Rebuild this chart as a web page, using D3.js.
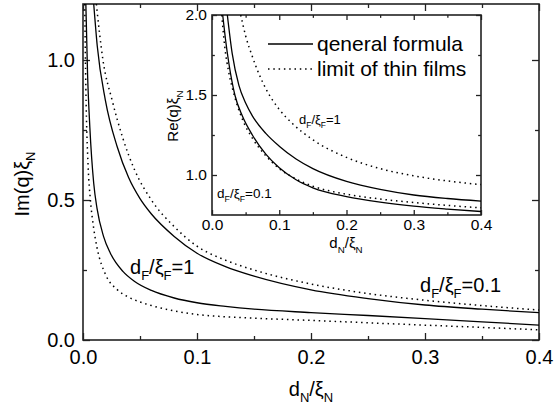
<!DOCTYPE html>
<html>
<head>
<meta charset="utf-8">
<script src="https://cdn.jsdelivr.net/npm/d3@7"></script>
<style>
  body { margin: 0; background: white; }
  svg { display: block; }
  svg text { font-family: "Liberation Sans", Arial, sans-serif; }
</style>
</head>
<body>
<div id="chart"></div>
<script>
// Im(q) xi_N vs d_N/xi_N
let imGeneral01 = [[0.0094, 1.2], [0.0125, 1.05], [0.0196, 0.857], [0.03, 0.69], [0.04, 0.58], [0.05, 0.505],
    [0.06, 0.45], [0.08, 0.37], [0.1, 0.31], [0.125, 0.262], [0.15, 0.228], [0.2, 0.179], [0.25, 0.148],
    [0.3, 0.125], [0.35, 0.11], [0.4, 0.0975]]
let imThin01 = [[0.0117, 1.2], [0.0175, 1.0], [0.0255, 0.857], [0.035, 0.72], [0.045, 0.61], [0.06, 0.5],
    [0.08, 0.405], [0.1, 0.335], [0.125, 0.285], [0.15, 0.25], [0.2, 0.2], [0.25, 0.166], [0.3, 0.142],
    [0.35, 0.123], [0.4, 0.107]]
let imGeneral1 = [[0.0025, 1.2], [0.004, 0.95], [0.006, 0.76], [0.0094, 0.56], [0.0123, 0.47], [0.018, 0.37],
    [0.024, 0.31], [0.035, 0.245], [0.045, 0.21], [0.06, 0.177], [0.08, 0.15], [0.1, 0.133], [0.125, 0.12],
    [0.15, 0.11], [0.2, 0.098], [0.25, 0.0875], [0.3, 0.0765], [0.35, 0.065], [0.4, 0.053]]
let imThin1 = [[0.0015, 1.2], [0.0025, 0.9], [0.0045, 0.62], [0.0065, 0.5], [0.009, 0.41], [0.0123, 0.33],
    [0.02, 0.232], [0.03, 0.18], [0.04, 0.153], [0.05, 0.136], [0.06, 0.123], [0.08, 0.104], [0.1, 0.091],
    [0.125, 0.083], [0.15, 0.078], [0.2, 0.07], [0.25, 0.0615], [0.3, 0.053], [0.35, 0.045], [0.4, 0.036]]

// Re(q) xi_N (inset)
let reGeneral01 = [[0.0159, 2.0], [0.02, 1.85], [0.025, 1.7], [0.034, 1.5], [0.045, 1.37], [0.06, 1.25],
    [0.08, 1.13], [0.1, 1.045], [0.125, 0.97], [0.15, 0.92], [0.2, 0.865], [0.25, 0.83], [0.3, 0.805],
    [0.35, 0.787], [0.4, 0.772]]
let reThin01 = [[0.0145, 2.0], [0.019, 1.8], [0.025, 1.64], [0.033, 1.5], [0.045, 1.35], [0.06, 1.23],
    [0.08, 1.12], [0.1, 1.04], [0.125, 0.975], [0.15, 0.93], [0.2, 0.88], [0.25, 0.85], [0.3, 0.828],
    [0.35, 0.81], [0.4, 0.795]]
let reGeneral1 = [[0.0228, 2.0], [0.03, 1.76], [0.04, 1.56], [0.05, 1.45], [0.06, 1.37], [0.08, 1.26],
    [0.1, 1.18], [0.125, 1.1], [0.15, 1.04], [0.2, 0.96], [0.25, 0.91], [0.3, 0.875], [0.35, 0.853], [0.4, 0.837]]
let reThin1 = [[0.0427, 2.0], [0.05, 1.87], [0.06, 1.74], [0.07, 1.63], [0.08, 1.54], [0.1, 1.41],
    [0.12, 1.32], [0.15, 1.22], [0.2, 1.11], [0.25, 1.04], [0.3, 0.995], [0.35, 0.963], [0.4, 0.94]]

let xTicks = [0.0, 0.1, 0.2, 0.3, 0.4]
let xMinor = [0.05, 0.15, 0.25, 0.35]
let imTicks = [0.0, 0.5, 1.0]
let imMinor = [0.25, 0.75]
let reTicks = [1.0, 1.5, 2.0]
let reMinor = [1.25, 1.75]

let legendLabels = ["qeneral formula", "limit of thin films"]

const W = 554, H = 407
const svg = d3.select("#chart").append("svg").attr("width", W).attr("height", H)

// text with subscripts: parts like ["d", ["N"], "/ξ", ["N"]]
let richText = function (sel, parts, size) {
    let shift = 0
    parts.forEach(function (p) {
        let isSub = Array.isArray(p)
        let want = isSub ? size * 0.3 : 0
        sel.append("tspan")
            .attr("dy", want - shift)
            .attr("font-size", isSub ? size * 0.65 : size)
            .text(isSub ? p[0] : p)
        shift = want
    })
    return sel
}

let drawPanel = function (g, box, yDomain, yT, yM, fs, tickLen, padX, padY) {
    let x = d3.scaleLinear().domain([0, 0.4]).range([box.x0, box.x1])
    let y = d3.scaleLinear().domain(yDomain).range([box.y1, box.y0])

    g.append("rect").attr("x", box.x0).attr("y", box.y0)
        .attr("width", box.x1 - box.x0).attr("height", box.y1 - box.y0)
        .attr("fill", "white")

    let axes = [
        [d3.axisBottom(x), box.y1, 0, xTicks, xMinor, true, true],
        [d3.axisTop(x), box.y0, 0, xTicks, xMinor, false, true],
        [d3.axisLeft(y), 0, box.x0, yT, yM, true, false],
        [d3.axisRight(y), 0, box.x1, yT, yM, false, false]
    ]
    axes.forEach(function (a) {
        let major = g.append("g")
            .attr("transform", `translate(${a[2]},${a[1]})`)
            .call(a[0].tickValues(a[3]).tickSizeInner(-tickLen).tickSizeOuter(0)
                .tickPadding(a[6] ? padX : padY).tickFormat(a[5] ? d3.format(".1f") : ""))
        major.attr("font-family", null).attr("font-size", null)
        major.select(".domain").remove()
        major.selectAll("text").attr("font-size", fs).attr("fill", "black")
        major.selectAll("line").attr("stroke", "#222").attr("stroke-width", 1.3)
        let minor = g.append("g")
            .attr("transform", `translate(${a[2]},${a[1]})`)
            .call(a[0].tickValues(a[4]).tickSizeInner(-tickLen * 0.57).tickFormat(""))
        minor.select(".domain").remove()
        minor.selectAll("line").attr("stroke", "#222").attr("stroke-width", 1.3)
    })

    g.append("rect").attr("x", box.x0).attr("y", box.y0)
        .attr("width", box.x1 - box.x0).attr("height", box.y1 - box.y0)
        .attr("fill", "none").attr("stroke", "#222").attr("stroke-width", 1.6)
    return { x: x, y: y }
}

let drawCurve = function (g, sc, data, dotted, clipId) {
    let line = d3.line().x(d => sc.x(d[0])).y(d => sc.y(d[1])).curve(d3.curveMonotoneX)
    g.append("path").datum(data)
        .attr("d", line)
        .attr("fill", "none")
        .attr("stroke", "black")
        .attr("stroke-width", dotted ? 1.5 : 1.3)
        .attr("stroke-dasharray", dotted ? "1.5,3.8" : null)
        .attr("clip-path", `url(#${clipId})`)
}

let mainBox = { x0: 83, x1: 539, y0: 4, y1: 340 }
let insetBox = { x0: 212, x1: 481, y0: 15, y1: 215 }

let defs = svg.append("defs")
defs.append("clipPath").attr("id", "clipMain").append("rect")
    .attr("x", mainBox.x0).attr("y", mainBox.y0)
    .attr("width", mainBox.x1 - mainBox.x0).attr("height", mainBox.y1 - mainBox.y0)
defs.append("clipPath").attr("id", "clipInset").append("rect")
    .attr("x", insetBox.x0).attr("y", insetBox.y0)
    .attr("width", insetBox.x1 - insetBox.x0).attr("height", insetBox.y1 - insetBox.y0)

// Main panel
let gMain = svg.append("g")
let main = drawPanel(gMain, mainBox, [0, 1.2], imTicks, imMinor, 20, 7, 10, 8)
drawCurve(gMain, main, imGeneral01, false, "clipMain")
drawCurve(gMain, main, imThin01, true, "clipMain")
drawCurve(gMain, main, imGeneral1, false, "clipMain")
drawCurve(gMain, main, imThin1, true, "clipMain")

richText(gMain.append("text").attr("x", 311).attr("y", 396).attr("text-anchor", "middle"),
    ["d", ["N"], "/ξ", ["N"]], 20)
richText(gMain.append("text").attr("transform", "translate(29,184) rotate(-90)").attr("text-anchor", "middle"),
    ["Im(q)ξ", ["N"]], 20)
richText(gMain.append("text").attr("x", 130).attr("y", 274), ["d", ["F"], "/ξ", ["F"], "=1"], 20)
richText(gMain.append("text").attr("x", 420).attr("y", 292), ["d", ["F"], "/ξ", ["F"], "=0.1"], 20)

// Inset
let gIn = svg.append("g")
let inset = drawPanel(gIn, insetBox, [0.75, 2.0], reTicks, reMinor, 15.5, 5, 4, 5)
drawCurve(gIn, inset, reGeneral01, false, "clipInset")
drawCurve(gIn, inset, reThin01, true, "clipInset")
drawCurve(gIn, inset, reGeneral1, false, "clipInset")
drawCurve(gIn, inset, reThin1, true, "clipInset")

richText(gIn.append("text").attr("x", 346).attr("y", 248).attr("text-anchor", "middle"),
    ["d", ["N"], "/ξ", ["N"]], 15)
richText(gIn.append("text").attr("transform", "translate(178,116) rotate(-90)").attr("text-anchor", "middle"),
    ["Re(q)ξ", ["N"]], 15)
richText(gIn.append("text").attr("x", 299).attr("y", 124), ["d", ["F"], "/ξ", ["F"], "=1"], 13)
richText(gIn.append("text").attr("x", 217).attr("y", 198), ["d", ["F"], "/ξ", ["F"], "=0.1"], 13.5)

// Legend
let legend = gIn.append("g")
legendLabels.forEach(function (lab, i) {
    let ly = 44 + i * 25
    legend.append("line").attr("x1", 268).attr("x2", 313).attr("y1", ly).attr("y2", ly)
        .attr("stroke", "black").attr("stroke-width", i == 0 ? 1.3 : 1.5)
        .attr("stroke-dasharray", i == 0 ? null : "1.5,3.8")
    legend.append("text").attr("x", 317).attr("y", ly + 7).attr("font-size", 21).text(lab)
})
</script>
</body>
</html>
